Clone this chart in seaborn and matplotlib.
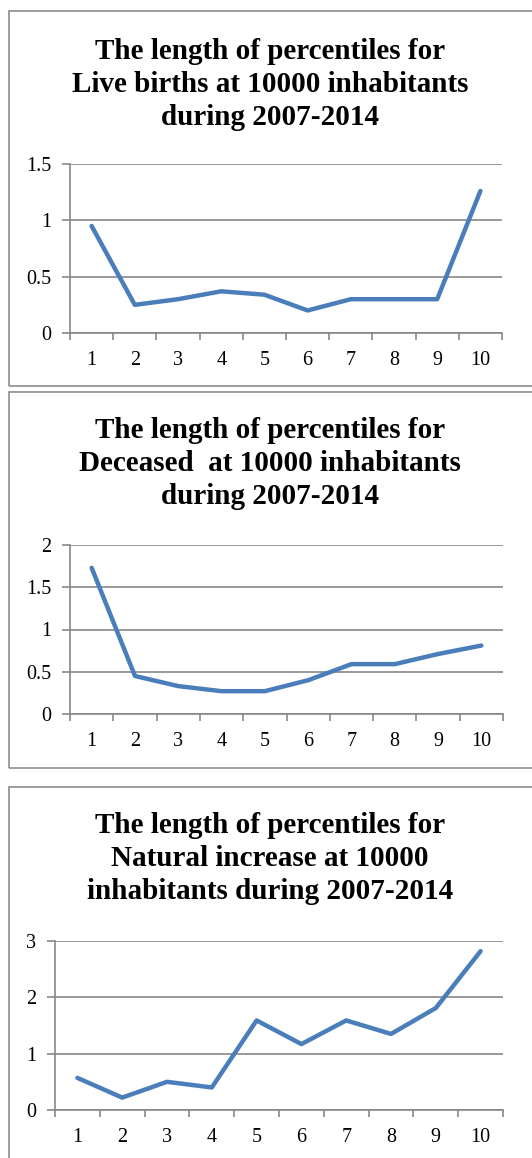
import matplotlib
matplotlib.use("Agg")
import matplotlib.pyplot as plt
from matplotlib.patches import Rectangle
import seaborn as sns
import pandas as pd

# Percentile groups and the length of each percentile interval
percentiles = [1, 2, 3, 4, 5, 6, 7, 8, 9, 10]
live_births = [0.95, 0.25, 0.30, 0.37, 0.34, 0.20, 0.30, 0.30, 0.30, 1.26]
deceased = [1.73, 0.45, 0.33, 0.27, 0.27, 0.40, 0.59, 0.59, 0.71, 0.81]
natural_increase = [0.57, 0.22, 0.50, 0.40, 1.59, 1.17, 1.59, 1.35, 1.81, 2.82]

titles = [
    "The length of percentiles for\nLive births at 10000 inhabitants\nduring 2007-2014",
    "The length of percentiles for\nDeceased  at 10000 inhabitants\nduring 2007-2014",
    "The length of percentiles for\nNatural increase at 10000\ninhabitants during 2007-2014",
]
y_ticks = [[0, 0.5, 1, 1.5], [0, 0.5, 1, 1.5, 2], [0, 1, 2, 3]]
y_tick_labels = [["0", "0.5", "1", "1.5"], ["0", "0.5", "1", "1.5", "2"], ["0", "1", "2", "3"]]

sns.set_theme(style="white")
plt.rcParams["font.family"] = ["Liberation Serif", "DejaVu Serif"]

W, H = 532, 1158
fig = plt.figure(figsize=(W / 100, H / 100), dpi=100)
fig.patch.set_facecolor("white")

LINE = "#4A7EBB"
GRID = "#878787"

# pixel layout: (frame top, frame bottom, axes left, axes right, axes top, axes bottom, title top)
layout = [
    (11, 386, 70, 502, 164, 333, 38),
    (392, 768, 70, 503, 545, 714, 417),
    (787, 1175, 55, 503, 941, 1110, 812),
]
series = [live_births, deceased, natural_increase]

for (ft, fb, al, ar, at, ab, tt), vals, title, yt, ytl in zip(layout, series, titles, y_ticks, y_tick_labels):
    # chart frame
    fig.patches.append(Rectangle((9 / W, 1 - fb / H), (W + 20) / W, (fb - ft) / H,
                                 transform=fig.transFigure, fill=False,
                                 edgecolor="#8C8C8C", linewidth=1.2, clip_on=False))
    ax = fig.add_axes([al / W, 1 - ab / H, (ar - al) / W, (ab - at) / H])
    df = pd.DataFrame({"p": percentiles, "v": vals})
    sns.lineplot(data=df, x="p", y="v", ax=ax, color=LINE, linewidth=3.2,
                 solid_joinstyle="round", solid_capstyle="round")
    ax.set_xlim(0.5, 10.5)
    ax.set_ylim(yt[0], yt[-1])
    ax.set_xlabel("")
    ax.set_ylabel("")
    ax.set_facecolor("none")
    for s in ["top", "right"]:
        ax.spines[s].set_visible(False)
    for s in ["left", "bottom"]:
        ax.spines[s].set_color(GRID)
        ax.spines[s].set_linewidth(1.2)
    ax.set_yticks(yt)
    ax.set_yticklabels(ytl, fontsize=14.5)
    ax.yaxis.grid(True, color=GRID, linewidth=1.2)
    ax.set_axisbelow(True)
    # category boundaries as major ticks, labels centred on minor ticks
    ax.set_xticks([p - 0.5 for p in percentiles] + [percentiles[-1] + 0.5])
    ax.set_xticks(percentiles, minor=True)
    ax.set_xticklabels([str(p) for p in percentiles], minor=True, fontsize=14.5)
    ax.tick_params(axis="x", which="major", length=5, width=1.2, color=GRID,
                   direction="out", bottom=True, labelbottom=False)
    ax.tick_params(axis="x", which="minor", length=0, pad=13, labelbottom=True)
    ax.tick_params(axis="y", length=5.5, width=1.2, color=GRID, direction="out", left=True, pad=8)
    for lbl in ax.get_yticklabels() + ax.get_xticklabels(minor=True):
        lbl.set_color("black")
    fig.text(270 / W, 1 - tt / H, title, ha="center", va="top", fontsize=21,
             fontweight="bold", linespacing=1.28, color="black")

fig.savefig("out.png", dpi=100, facecolor="white")
